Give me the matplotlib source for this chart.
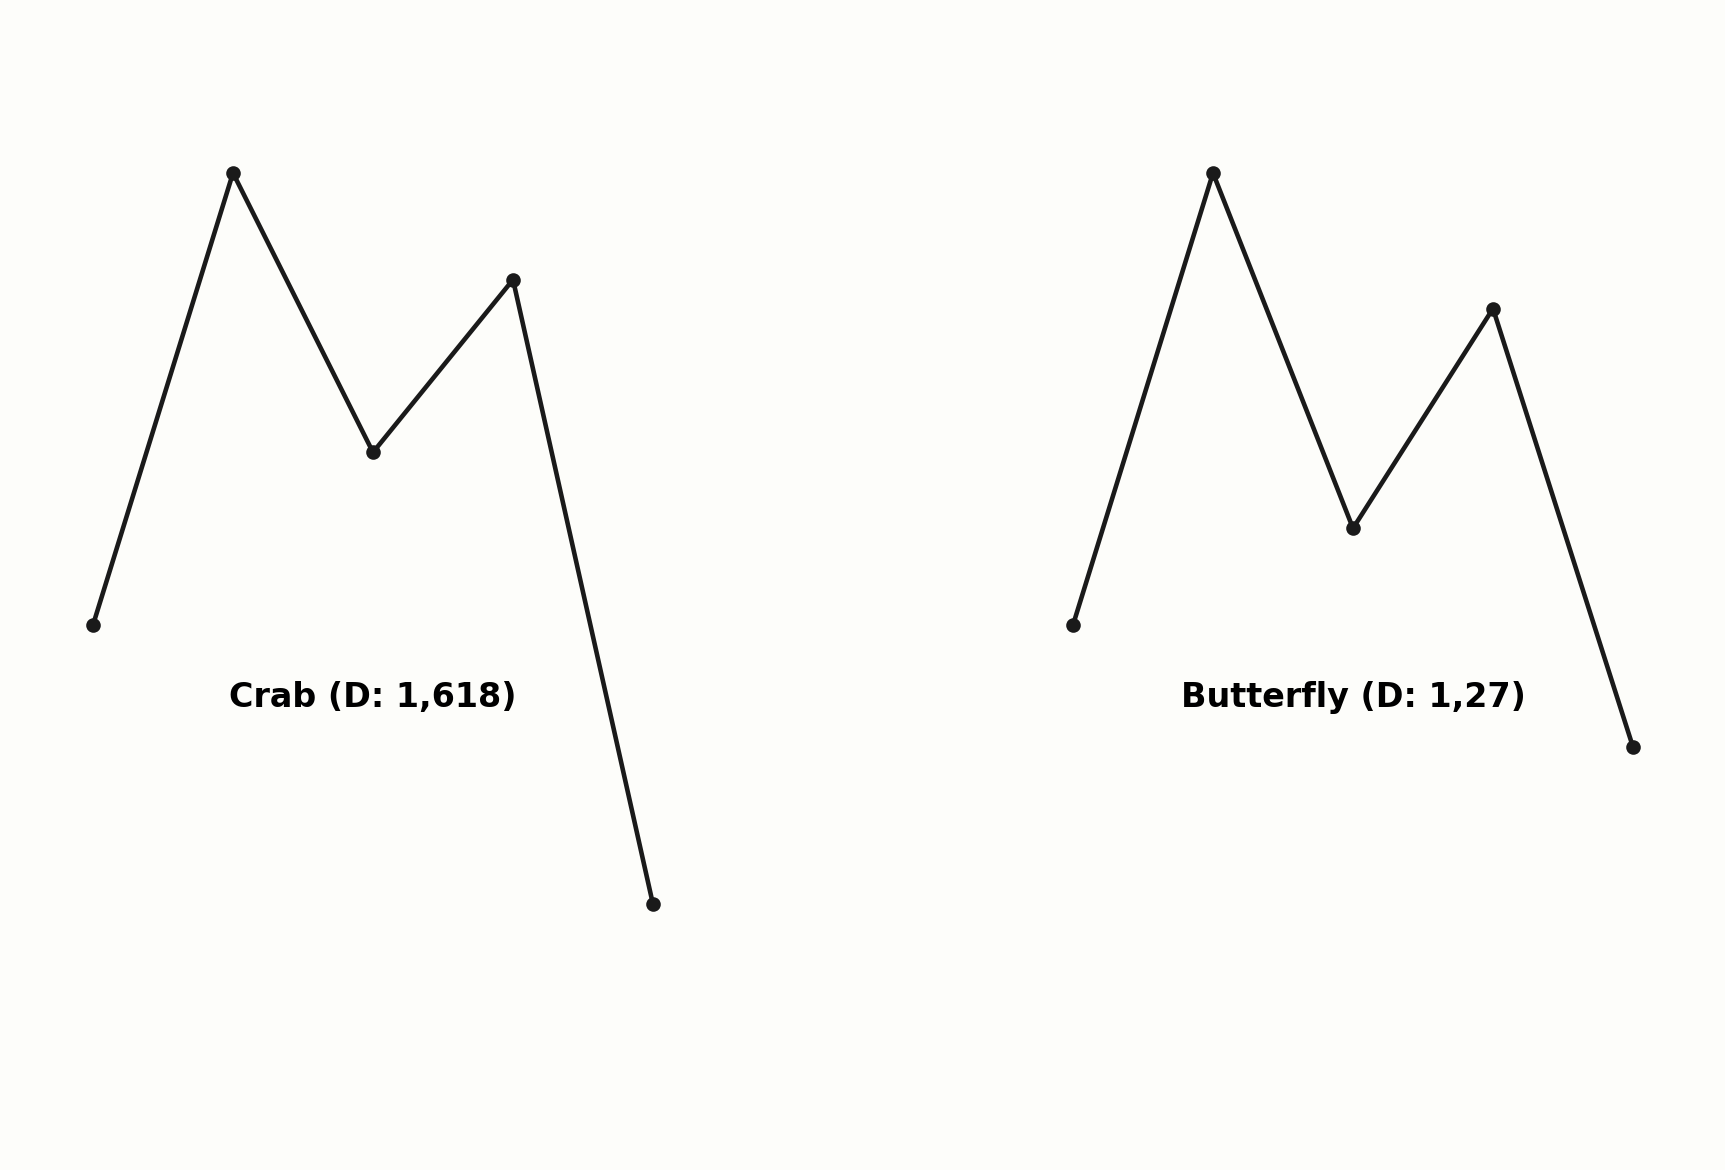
import matplotlib
matplotlib.use("Agg")
import matplotlib.pyplot as plt

# Harmonic patterns: points X, A, B, C, D
points = [0, 1, 2, 3, 4]
crab_values = [0.0, 1.0, 0.382, 0.764, -0.618]
butterfly_values = [0.0, 1.0, 0.214, 0.700, -0.27]
titles = ["Crab (D: 1,618)", "Butterfly (D: 1,27)"]

bg = "#fdfdfa"
ink = "#1a1a1a"

fig = plt.figure(figsize=(11.5, 7.8), dpi=150, facecolor=bg)
W, H = 1725.0, 1170.0

def make_axes(x0_px):
    # x: 140 px per unit, xlim (-0.2, 4.2); y: 452 px per unit, ylim (-1, 1.2)
    left = (x0_px - 0.2 * 140) / W
    width = 4.4 * 140 / W
    bottom = 1 - (625 + 452) / H
    height = 2.2 * 452 / H
    ax = fig.add_axes([left, bottom, width, height])
    ax.set_xlim(-0.2, 4.2)
    ax.set_ylim(-1.0, 1.2)
    ax.set_facecolor(bg)
    ax.axis("off")
    return ax

for x0, vals, title in [(93, crab_values, titles[0]), (1073, butterfly_values, titles[1])]:
    ax = make_axes(x0)
    ax.plot(points, vals, color=ink, linewidth=2.2, marker="o", markersize=6)
    ax.text(2, -0.16, title, ha="center", va="center", fontsize=16,
            fontweight="bold", color="black")

fig.savefig("out.png", dpi=150, facecolor=bg)
